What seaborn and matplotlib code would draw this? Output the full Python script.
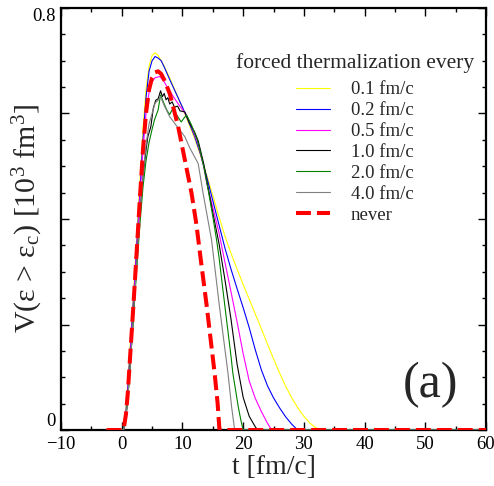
import numpy as np
import pandas as pd
import matplotlib
matplotlib.use("Agg")
import matplotlib.pyplot as plt
from matplotlib.ticker import MultipleLocator, FixedLocator, FixedFormatter
import seaborn as sns

# ---- data ----
labels = ["0.1 fm/c", "0.2 fm/c", "0.5 fm/c", "1.0 fm/c", "2.0 fm/c", "4.0 fm/c", "never"]

t_y = [-2.5, 0, 0.3, 0.7, 1.0, 1.5, 2.0, 2.5, 3.0, 3.5, 4.0, 4.5, 5.0, 5.5, 6.0, 6.5, 7, 8, 9, 10, 11, 12, 13, 14, 15, 16, 17, 18, 19, 20, 21, 22, 23, 24, 25, 26, 27, 28, 29, 30, 31, 32, 33, 60]
v_y = [0, 0, 0, 0.04, 0.09, 0.18, 0.27, 0.37, 0.47, 0.57, 0.645, 0.69, 0.71, 0.715, 0.71, 0.70, 0.69, 0.665, 0.638, 0.61, 0.582, 0.553, 0.52, 0.483, 0.445, 0.405, 0.368, 0.335, 0.305, 0.276, 0.248, 0.220, 0.192, 0.163, 0.135, 0.108, 0.083, 0.061, 0.042, 0.026, 0.013, 0.004, 0, 0]

t_b = [-2.5, 0, 0.3, 0.7, 1.0, 1.5, 2.0, 2.5, 3.0, 3.5, 4.0, 4.5, 5.0, 5.5, 6.0, 6.5, 7, 8, 9, 10, 11, 12, 13, 14, 15, 16, 17, 18, 19, 20, 21, 22, 23, 24, 25, 26, 27, 28, 28.8, 29.4, 60]
v_b = [0, 0, 0, 0.035, 0.08, 0.17, 0.26, 0.355, 0.455, 0.55, 0.63, 0.68, 0.70, 0.708, 0.705, 0.70, 0.688, 0.662, 0.637, 0.612, 0.585, 0.557, 0.522, 0.48, 0.435, 0.39, 0.345, 0.305, 0.268, 0.232, 0.194, 0.152, 0.114, 0.084, 0.061, 0.042, 0.025, 0.011, 0.002, 0, 0]

t_m = [-2.5, 0, 0.3, 0.7, 1.0, 1.5, 2.0, 2.5, 3.0, 3.5, 4.0, 4.5, 5.0, 5.5, 6.3, 7.0, 7.6, 8.5, 9.5, 10.5, 11.5, 12.5, 13.5, 14, 15, 16, 17, 18, 19, 20, 21, 22, 23, 24, 24.7, 60]
v_m = [0, 0, 0, 0.03, 0.07, 0.16, 0.25, 0.345, 0.44, 0.53, 0.60, 0.64, 0.66, 0.668, 0.67, 0.66, 0.648, 0.632, 0.615, 0.60, 0.575, 0.545, 0.50, 0.468, 0.422, 0.375, 0.318, 0.262, 0.205, 0.145, 0.093, 0.060, 0.035, 0.013, 0, 0]

t_k = [-2.5, 0, 0.3, 0.7, 1.0, 1.5, 2.0, 2.5, 3.0, 3.5, 4.0, 4.3, 4.8, 5.2, 5.6, 6.0, 6.4, 6.7, 7.0, 7.3, 7.6, 7.9, 8.3, 8.7, 9.2, 9.6, 10.4, 11.2, 12.0, 12.6, 13.5, 14.3, 15, 16, 17, 18, 19, 20, 21, 22, 22.4, 60]
v_k = [0, 0, 0, 0.025, 0.06, 0.14, 0.23, 0.32, 0.41, 0.48, 0.53, 0.556, 0.575, 0.61, 0.625, 0.628, 0.643, 0.632, 0.638, 0.626, 0.63, 0.618, 0.622, 0.612, 0.614, 0.605, 0.603, 0.581, 0.565, 0.548, 0.505, 0.455, 0.412, 0.355, 0.285, 0.21, 0.125, 0.062, 0.026, 0.006, 0, 0]

t_g = [-2.5, 0, 0.3, 0.7, 1.0, 1.5, 2.0, 2.5, 3.0, 3.5, 4.0, 4.5, 5.0, 5.4, 6.0, 6.4, 7.0, 7.5, 7.9, 8.45, 9.0, 9.8, 10.3, 10.7, 11.5, 12.5, 13.5, 14.2, 15, 15.6, 16, 17, 18, 18.3, 19.2, 19.6, 20, 60]
v_g = [0, 0, 0, 0.025, 0.06, 0.14, 0.225, 0.31, 0.39, 0.46, 0.51, 0.545, 0.57, 0.588, 0.607, 0.635, 0.618, 0.605, 0.598, 0.61, 0.598, 0.584, 0.592, 0.597, 0.578, 0.548, 0.50, 0.458, 0.405, 0.362, 0.33, 0.234, 0.14, 0.108, 0.044, 0.02, 0, 0]

t_gr = [-2.5, 0, 0.3, 0.7, 1.0, 1.5, 2.0, 2.5, 3.0, 3.5, 4.0, 4.5, 5.0, 5.5, 6.0, 6.4, 7.0, 7.9, 8.5, 9.0, 10.4, 11.2, 12.0, 12.6, 13.4, 14.8, 16.1, 17.5, 18.1, 18.6, 60]
v_gr = [0, 0, 0, 0.025, 0.06, 0.14, 0.23, 0.32, 0.41, 0.48, 0.54, 0.58, 0.60, 0.62, 0.625, 0.632, 0.615, 0.594, 0.585, 0.577, 0.556, 0.535, 0.518, 0.505, 0.449, 0.36, 0.234, 0.108, 0.044, 0, 0]

t_r = [-2.5, 0, 0.3, 0.7, 1.0, 1.5, 2.0, 2.5, 3.0, 3.5, 4.0, 4.5, 5.0, 5.5, 6.0, 6.5, 7.0, 7.9, 8.6, 9.3, 10.4, 11.5, 12.3, 13.0, 14.0, 15.3, 15.8, 16.1, 60]
v_r = [0, 0, 0, 0.03, 0.07, 0.16, 0.25, 0.345, 0.44, 0.53, 0.60, 0.645, 0.668, 0.678, 0.68, 0.675, 0.664, 0.638, 0.607, 0.575, 0.512, 0.449, 0.39, 0.325, 0.235, 0.108, 0.05, 0, 0]

series_t = [t_y, t_b, t_m, t_k, t_g, t_gr, t_r]
series_v = [v_y, v_b, v_m, v_k, v_g, v_gr, v_r]
colors = ["#ffff00", "#0000ff", "#ff00ff", "#000000", "#008000", "#808080", "#ff0000"]

x_ticks = [-10, 0, 10, 20, 30, 40, 50, 60]
y_ticks = [0, 0.2, 0.4, 0.6, 0.8]
y_ticklabels = ["0", "", "", "", "0.8"]

# ---- style ----
sns.set_style("ticks")
plt.rcParams["font.family"] = ["Liberation Serif", "DejaVu Serif"]
plt.rcParams["mathtext.fontset"] = "custom"
plt.rcParams["mathtext.rm"] = "Liberation Serif"
plt.rcParams["mathtext.it"] = "Liberation Serif:italic"

W, H = 494, 486
fig = plt.figure(figsize=(W / 100, H / 100), dpi=100)
ax = fig.add_axes([61 / W, 1 - 430 / H, 425 / W, 422 / H])

for i, (tt, vv) in enumerate(zip(series_t, series_v)):
    df = pd.DataFrame({"t": tt, "V": vv})
    if labels[i] == "never":
        sns.lineplot(data=df, x="t", y="V", ax=ax, color=colors[i], lw=2.9,
                     estimator=None, sort=False, label=labels[i],
                     linestyle=(0, (3.7, 1.5)), zorder=5)
    else:
        sns.lineplot(data=df, x="t", y="V", ax=ax, color=colors[i], lw=0.8,
                     estimator=None, sort=False, label=labels[i], zorder=3)

ax.set_xlim(-10, 60)
ax.set_ylim(0, 0.8)
ax.xaxis.set_major_locator(FixedLocator(x_ticks))
ax.xaxis.set_minor_locator(MultipleLocator(5))
ax.yaxis.set_major_locator(FixedLocator(y_ticks))
ax.yaxis.set_major_formatter(FixedFormatter(y_ticklabels))
ax.yaxis.set_minor_locator(MultipleLocator(0.05))

ax.tick_params(which="both", direction="in", top=True, right=True, labelsize=13.5, width=1.0, colors="black")
ax.tick_params(which="major", length=6, pad=4)
ax.tick_params(which="minor", length=3)
for lab in ax.get_yticklabels():
    if lab.get_text() == "0.8":
        lab.set_va("top")
    elif lab.get_text() == "0":
        lab.set_va("bottom")
for s in ax.spines.values():
    s.set_linewidth(1.6)
    s.set_color("black")

ax.set_xlabel("t [fm/c]", fontsize=20, labelpad=2)
ax.set_ylabel(r"V(ε > ε$_{\mathrm{c}}$) [10$^{\mathrm{3}}$ fm$^{\mathrm{3}}$]", fontsize=21.5)
ax.yaxis.set_label_coords((28 - 61) / 425, 0.502)
ax.yaxis.label.set_va("center")

ax.text(0.87, 0.107, "(a)", transform=ax.transAxes, fontsize=36, ha="center", va="center")

leg = ax.legend(loc="upper right", bbox_to_anchor=(474 / W, 1 - 53 / H),
                bbox_transform=fig.transFigure, frameon=False,
                title="forced thermalization every", title_fontsize=15.5, fontsize=13.5,
                handlelength=1.8, handletextpad=1.1, labelspacing=0.2, borderpad=0,
                borderaxespad=0)
leg._legend_box.align = "center"
leg._legend_box.sep = 6

fig.savefig("out.png", dpi=100)
